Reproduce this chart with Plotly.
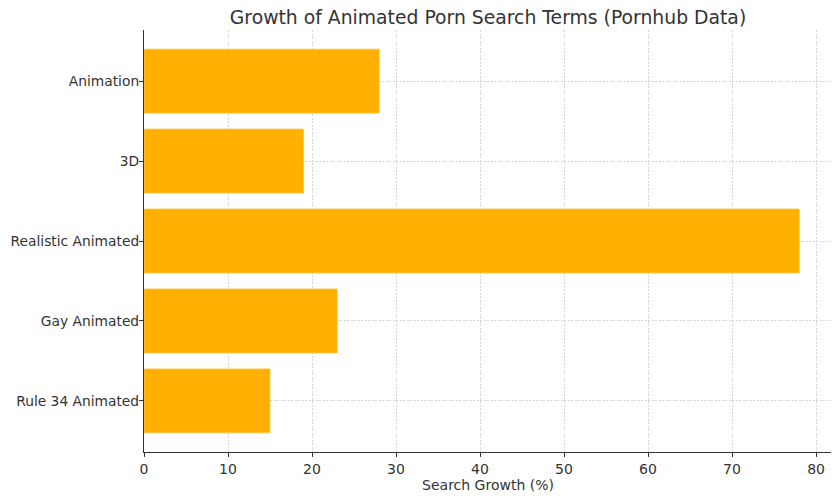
import plotly.graph_objects as go

# Search terms (top to bottom) and growth values in percent
terms = ["Animation", "3D", "Realistic Animated", "Gay Animated", "Rule 34 Animated"]
growth = [28, 19, 78, 23, 15]

x_ticks = [0, 10, 20, 30, 40, 50, 60, 70, 80]

FONT = "DejaVu Sans"
TXT = "#333333"
GRID = "#d4d4d4"

# the page body adds an 8px offset, so the figure is 8px smaller
W, H = 831, 492

fig = go.Figure()

fig.add_trace(
    go.Bar(
        x=growth,
        y=terms,
        orientation="h",
        width=0.8,
        marker=dict(color="#FFB000", line=dict(color="#FFC640", width=0.8)),
    )
)

fig.update_layout(
    width=W,
    height=H,
    paper_bgcolor="white",
    plot_bgcolor="white",
    showlegend=False,
    margin=dict(l=136, r=7, t=22, b=48, autoexpand=False),
    font=dict(family=FONT, color=TXT, size=14),
    title=dict(
        text="Growth of Animated Porn Search Terms (Pornhub Data)",
        x=480 / W,
        xanchor="center",
        y=1 - 9 / H,
        yanchor="middle",
        font=dict(family=FONT, size=18.8, color=TXT),
    ),
)

fig.update_xaxes(
    range=[0, 81.9],
    tickvals=x_ticks,
    ticks="outside",
    ticklen=4,
    tickcolor=TXT,
    tickfont=dict(size=14, color=TXT),
    showgrid=True,
    gridcolor=GRID,
    griddash="2px,1.5px",
    gridwidth=0.8,
    showline=True,
    linecolor=TXT,
    linewidth=1.2,
    zeroline=False,
    automargin=False,
    title=dict(text="Search Growth (%)", font=dict(size=14, color=TXT), standoff=4),
)

fig.update_yaxes(
    type="category",
    categoryorder="array",
    categoryarray=terms,
    range=[4.64, -0.64],
    ticks="outside",
    ticklen=4,
    tickcolor=TXT,
    tickfont=dict(size=13.8, color=TXT),
    ticklabelstandoff=-3,
    showgrid=True,
    gridcolor=GRID,
    griddash="2px,1.5px",
    gridwidth=0.8,
    showline=True,
    linecolor=TXT,
    linewidth=1.2,
    zeroline=False,
    automargin=False,
)

fig.write_html("out.html")
